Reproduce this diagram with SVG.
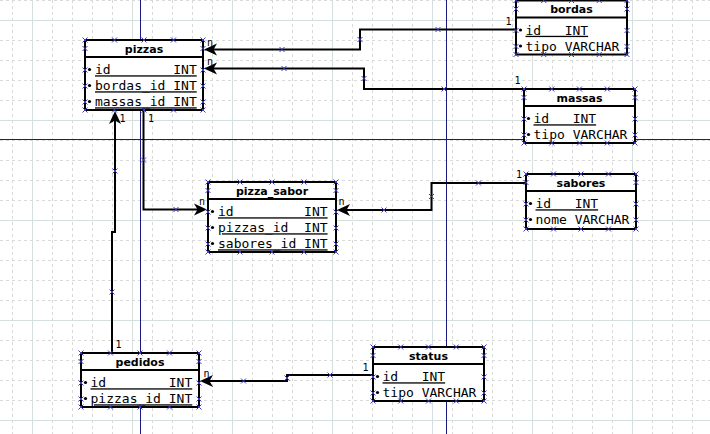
<svg xmlns="http://www.w3.org/2000/svg" width="710" height="434" viewBox="0 0 710 434">
<style>
.gd{stroke:#d9d9d9;stroke-width:1;stroke-dasharray:3 3;fill:none}
.gs{stroke:#d6dfdf;stroke-width:1;fill:none}
.pg{stroke:#1a1a80;stroke-width:1;fill:none}
.box{fill:#fff;stroke:#000;stroke-width:2}
.sep{stroke:#000;stroke-width:2}
.ttl{font-family:"DejaVu Sans",sans-serif;font-weight:bold;font-size:11px;text-anchor:middle;fill:#000}
.row{font-family:"DejaVu Sans Mono",monospace;font-size:13px;fill:#000;white-space:pre}
.u{text-decoration:underline}
.lbl{font-family:"DejaVu Sans Mono",monospace;font-size:10px;fill:#000}
.edge{fill:none;stroke:#000;stroke-width:2;marker-end:url(#arr)}
.xm{stroke:#3b3bc8;stroke-width:1;fill:none}
</style>
<defs>
<marker id="arr" markerUnits="userSpaceOnUse" markerWidth="16" markerHeight="14" refX="12" refY="7" orient="auto" overflow="visible"><path d="M16,7 L3,1 L6.5,7 L3,13 Z" fill="#000"/></marker>
<path id="xm" class="xm" d="M-2.5,-2.5 L2.5,2.5 M-2.5,2.5 L2.5,-2.5"/>
</defs>
<rect width="710" height="434" fill="#fff"/>
<g id="grid">
<path class="gd" d="M12.5,0V434M52.5,0V434M72.5,0V434M92.5,0V434M112.5,0V434M152.5,0V434M172.5,0V434M192.5,0V434M212.5,0V434M252.5,0V434M272.5,0V434M292.5,0V434M312.5,0V434M352.5,0V434M372.5,0V434M392.5,0V434M412.5,0V434M452.5,0V434M472.5,0V434M492.5,0V434M512.5,0V434M552.5,0V434M572.5,0V434M592.5,0V434M612.5,0V434M652.5,0V434M672.5,0V434M692.5,0V434"/>
<path class="gd" d="M0,0.5H710M0,40.5H710M0,60.5H710M0,80.5H710M0,100.5H710M0,140.5H710M0,160.5H710M0,180.5H710M0,200.5H710M0,240.5H710M0,260.5H710M0,280.5H710M0,300.5H710M0,340.5H710M0,360.5H710M0,380.5H710M0,400.5H710"/>
<path class="gs" d="M32.5,0V434M132.5,0V434M232.5,0V434M332.5,0V434M432.5,0V434M532.5,0V434M632.5,0V434M0,20.5H710M0,120.5H710M0,220.5H710M0,320.5H710M0,420.5H710"/>
<path class="pg" d="M140.5,0V434M446.5,0V434M0,139.5H710"/>
</g>
<g id="pizzas">
<rect class="box" x="85" y="40" width="118" height="70"/>
<line class="sep" x1="85" y1="57" x2="203" y2="57"/>
<text class="ttl" x="144" y="52.5">pizzas</text>
<circle cx="89.5" cy="69.5" r="1.6"/><circle cx="89.5" cy="85.5" r="1.6"/><circle cx="89.5" cy="101.5" r="1.6"/>
<text class="row u" x="95" y="74.3" xml:space="preserve">id        INT</text>
<text class="row u" x="95" y="90.3" xml:space="preserve">bordas_id INT</text>
<text class="row u" x="95" y="106.3" xml:space="preserve">massas_id INT</text>
</g>
<g id="bordas">
<rect class="box" x="516" y="0.5" width="111" height="54"/>
<line class="sep" x1="516" y1="17.5" x2="627" y2="17.5"/>
<text class="ttl" x="571.5" y="13">bordas</text>
<circle cx="520.5" cy="30" r="1.6"/><circle cx="520.5" cy="46" r="1.6"/>
<text class="row u" x="525.5" y="34.8" xml:space="preserve">id   INT</text>
<text class="row" x="525.5" y="50.8" xml:space="preserve">tipo VARCHAR</text>
</g>
<g id="massas">
<rect class="box" x="524" y="89" width="111" height="54"/>
<line class="sep" x1="524" y1="106" x2="635" y2="106"/>
<text class="ttl" x="579.5" y="101.5">massas</text>
<circle cx="528.5" cy="118.5" r="1.6"/><circle cx="528.5" cy="134.5" r="1.6"/>
<text class="row u" x="533.5" y="123.3" xml:space="preserve">id   INT</text>
<text class="row" x="533.5" y="139.3" xml:space="preserve">tipo VARCHAR</text>
</g>
<g id="pizza_sabor">
<rect class="box" x="208" y="182" width="128" height="70"/>
<line class="sep" x1="208" y1="199" x2="336" y2="199"/>
<text class="ttl" x="272" y="194.5">pizza_sabor</text>
<circle cx="212.5" cy="211.5" r="1.6"/><circle cx="212.5" cy="227.5" r="1.6"/><circle cx="212.5" cy="243.5" r="1.6"/>
<text class="row u" x="218" y="216.3" xml:space="preserve">id         INT</text>
<text class="row u" x="218" y="232.3" xml:space="preserve">pizzas_id  INT</text>
<text class="row u" x="218" y="248.3" xml:space="preserve">sabores_id INT</text>
</g>
<g id="sabores">
<rect class="box" x="526" y="174" width="110" height="55"/>
<line class="sep" x1="526" y1="191" x2="636" y2="191"/>
<text class="ttl" x="581" y="186.5">sabores</text>
<circle cx="530.5" cy="203.5" r="1.6"/><circle cx="530.5" cy="219.5" r="1.6"/>
<text class="row u" x="535.5" y="208.3" xml:space="preserve">id   INT</text>
<text class="row" x="535.5" y="224.3" xml:space="preserve">nome VARCHAR</text>
</g>
<g id="pedidos">
<rect class="box" x="81" y="353" width="118" height="54"/>
<line class="sep" x1="81" y1="370" x2="199" y2="370"/>
<text class="ttl" x="140" y="365.5">pedidos</text>
<circle cx="85.5" cy="382.5" r="1.6"/><circle cx="85.5" cy="398.5" r="1.6"/>
<text class="row u" x="90.5" y="387.3" xml:space="preserve">id        INT</text>
<text class="row u" x="90.5" y="403.3" xml:space="preserve">pizzas_id INT</text>
</g>
<g id="status">
<rect class="box" x="373" y="347" width="111" height="54"/>
<line class="sep" x1="373" y1="364" x2="484" y2="364"/>
<text class="ttl" x="428.5" y="359.5">status</text>
<circle cx="377.5" cy="376.5" r="1.6"/><circle cx="377.5" cy="392.5" r="1.6"/>
<text class="row u" x="382.5" y="381.3" xml:space="preserve">id   INT</text>
<text class="row" x="382.5" y="397.3" xml:space="preserve">tipo VARCHAR</text>
</g>
<g id="connectors">
<path class="edge" d="M516,29.5 H360 V49.5 H208"/>
<path class="edge" d="M524,89 H364 V68.5 H208"/>
<path class="edge" d="M143.5,110 V209.5 H203"/>
<path class="edge" d="M112,353 V232 H115 V115"/>
<path class="edge" d="M526,183 H431.5 V210 H341"/>
<path class="edge" d="M373,375 H287 V381 H204"/>
<text class="lbl" x="505.5" y="25">1</text>
<text class="lbl" x="207" y="45.5">n</text>
<text class="lbl" x="514.5" y="84">1</text>
<text class="lbl" x="207" y="64.5">n</text>
<text class="lbl" x="148" y="121.5">1</text>
<text class="lbl" x="199" y="204.5">n</text>
<text class="lbl" x="119.5" y="121.5">1</text>
<text class="lbl" x="115.5" y="348">1</text>
<text class="lbl" x="516" y="177.5">1</text>
<text class="lbl" x="338.5" y="205">n</text>
<text class="lbl" x="362.5" y="370.5">1</text>
<text class="lbl" x="203.5" y="376.5">n</text>
</g>
<g id="handles">
<use href="#xm" x="85" y="40"/><use href="#xm" x="114.5" y="40"/><use href="#xm" x="144" y="40"/><use href="#xm" x="173.5" y="40"/><use href="#xm" x="203" y="40"/>
<use href="#xm" x="85" y="110"/><use href="#xm" x="114.5" y="110"/><use href="#xm" x="144" y="110"/><use href="#xm" x="173.5" y="110"/><use href="#xm" x="203" y="110"/>
<use href="#xm" x="85" y="48.5"/><use href="#xm" x="85" y="70"/><use href="#xm" x="85" y="86"/><use href="#xm" x="85" y="102"/>
<use href="#xm" x="203" y="48.5"/><use href="#xm" x="203" y="70"/><use href="#xm" x="203" y="86"/><use href="#xm" x="203" y="102"/>
<use href="#xm" x="516" y="0.5"/><use href="#xm" x="543.75" y="0.5"/><use href="#xm" x="571.5" y="0.5"/><use href="#xm" x="599.25" y="0.5"/><use href="#xm" x="627" y="0.5"/>
<use href="#xm" x="516" y="54.5"/><use href="#xm" x="543.75" y="54.5"/><use href="#xm" x="571.5" y="54.5"/><use href="#xm" x="599.25" y="54.5"/><use href="#xm" x="627" y="54.5"/>
<use href="#xm" x="516" y="9"/><use href="#xm" x="516" y="30.5"/><use href="#xm" x="516" y="46.5"/>
<use href="#xm" x="627" y="9"/><use href="#xm" x="627" y="30.5"/><use href="#xm" x="627" y="46.5"/>
<use href="#xm" x="524" y="89"/><use href="#xm" x="551.75" y="89"/><use href="#xm" x="579.5" y="89"/><use href="#xm" x="607.25" y="89"/><use href="#xm" x="635" y="89"/>
<use href="#xm" x="524" y="143"/><use href="#xm" x="551.75" y="143"/><use href="#xm" x="579.5" y="143"/><use href="#xm" x="607.25" y="143"/><use href="#xm" x="635" y="143"/>
<use href="#xm" x="524" y="97.5"/><use href="#xm" x="524" y="119"/><use href="#xm" x="524" y="135"/>
<use href="#xm" x="635" y="97.5"/><use href="#xm" x="635" y="119"/><use href="#xm" x="635" y="135"/>
<use href="#xm" x="208" y="182"/><use href="#xm" x="240" y="182"/><use href="#xm" x="272" y="182"/><use href="#xm" x="304" y="182"/><use href="#xm" x="336" y="182"/>
<use href="#xm" x="208" y="252"/><use href="#xm" x="240" y="252"/><use href="#xm" x="272" y="252"/><use href="#xm" x="304" y="252"/><use href="#xm" x="336" y="252"/>
<use href="#xm" x="208" y="190.5"/><use href="#xm" x="208" y="212"/><use href="#xm" x="208" y="228"/><use href="#xm" x="208" y="244"/>
<use href="#xm" x="336" y="190.5"/><use href="#xm" x="336" y="212"/><use href="#xm" x="336" y="228"/><use href="#xm" x="336" y="244"/>
<use href="#xm" x="526" y="174"/><use href="#xm" x="553.5" y="174"/><use href="#xm" x="581" y="174"/><use href="#xm" x="608.5" y="174"/><use href="#xm" x="636" y="174"/>
<use href="#xm" x="526" y="229"/><use href="#xm" x="553.5" y="229"/><use href="#xm" x="581" y="229"/><use href="#xm" x="608.5" y="229"/><use href="#xm" x="636" y="229"/>
<use href="#xm" x="526" y="182.5"/><use href="#xm" x="526" y="204"/><use href="#xm" x="526" y="220"/>
<use href="#xm" x="636" y="182.5"/><use href="#xm" x="636" y="204"/><use href="#xm" x="636" y="220"/>
<use href="#xm" x="81" y="353"/><use href="#xm" x="110.5" y="353"/><use href="#xm" x="140" y="353"/><use href="#xm" x="169.5" y="353"/><use href="#xm" x="199" y="353"/>
<use href="#xm" x="81" y="407"/><use href="#xm" x="110.5" y="407"/><use href="#xm" x="140" y="407"/><use href="#xm" x="169.5" y="407"/><use href="#xm" x="199" y="407"/>
<use href="#xm" x="81" y="361.5"/><use href="#xm" x="81" y="383"/><use href="#xm" x="81" y="399"/>
<use href="#xm" x="199" y="361.5"/><use href="#xm" x="199" y="383"/><use href="#xm" x="199" y="399"/>
<use href="#xm" x="373" y="347"/><use href="#xm" x="400.75" y="347"/><use href="#xm" x="428.5" y="347"/><use href="#xm" x="456.25" y="347"/><use href="#xm" x="484" y="347"/>
<use href="#xm" x="373" y="401"/><use href="#xm" x="400.75" y="401"/><use href="#xm" x="428.5" y="401"/><use href="#xm" x="456.25" y="401"/><use href="#xm" x="484" y="401"/>
<use href="#xm" x="373" y="355.5"/><use href="#xm" x="373" y="377"/><use href="#xm" x="373" y="393"/>
<use href="#xm" x="484" y="355.5"/><use href="#xm" x="484" y="377"/><use href="#xm" x="484" y="393"/>
<use href="#xm" x="438" y="29.5"/><use href="#xm" x="360" y="39.5"/><use href="#xm" x="282" y="49.5"/>
<use href="#xm" x="444" y="89"/><use href="#xm" x="364" y="78.5"/><use href="#xm" x="284" y="68.5"/>
<use href="#xm" x="143.5" y="160"/><use href="#xm" x="176" y="209.5"/>
<use href="#xm" x="115" y="171"/><use href="#xm" x="112" y="292"/>
<use href="#xm" x="478.5" y="183"/><use href="#xm" x="431.5" y="196.5"/><use href="#xm" x="384" y="210"/>
<use href="#xm" x="330" y="375"/><use href="#xm" x="287" y="378"/><use href="#xm" x="243.5" y="381"/>
</g>
</svg>
